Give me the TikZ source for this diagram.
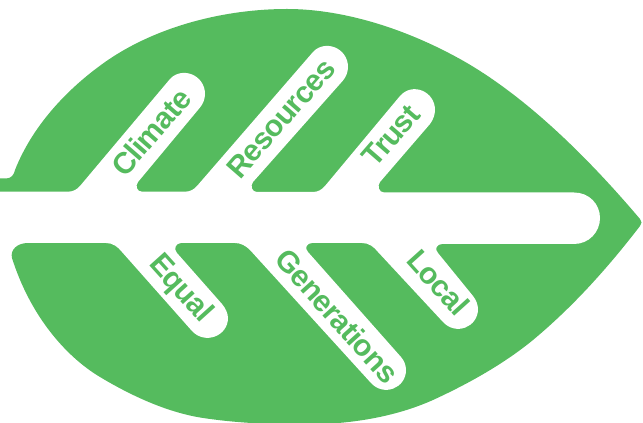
\documentclass[tikz,border=0pt]{standalone}
\usepackage{fontspec}
\setmainfont{Liberation Sans}
\newfontfamily\lblfont[LetterSpace=-2.5]{Liberation Sans}
\definecolor{leafgreen}{RGB}{85,187,94}
\tikzset{
  x=0.75pt,y=-0.75pt,
  lbl/.style={text=leafgreen,font=\lblfont\fontsize{22.5pt}{24pt}\selectfont\bfseries,inner sep=0pt,text height=0.72em,text depth=0pt,anchor=center}
}
\begin{document}
\begin{tikzpicture}
\useasboundingbox (0,0) rectangle (643,423);
\clip (0,0) rectangle (643,423);
% leaf
\fill[leafgreen] (0,178.5) -- (6,178.5) .. controls (11,178.5) and (14,175) .. (15,170)
  .. controls (32,127) and (66,89) .. (108,60)
  .. controls (158,26) and (225,9) .. (287,9)
  .. controls (345,9) and (410,30) .. (467,63)
  .. controls (530,100) and (590,160) .. (640,219)
  .. controls (642,221.5) and (642,223.5) .. (640,226)
  .. controls (610,265) and (575,305) .. (533,340)
  .. controls (505,363) and (470,383) .. (433,400)
  .. controls (395,417) and (350,424.5) .. (303,424.5)
  .. controls (270,424.5) and (235,423) .. (200,417.5)
  .. controls (165,411.5) and (130,395) .. (100,377)
  .. controls (65,356) and (30,315) .. (12,258)
  .. controls (10,250) and (17,243) .. (28,243) -- (30,220) -- (0,220) -- cycle;
% white veins
\fill[white] (0,191.7) -- (68,191.7) .. controls (73,191.7) and (77,189.5) .. (80,186)
  -- (170,79) .. controls (182,66) and (205,75) .. (205,94) .. controls (205,99) and (203,104) .. (200,107.5)
  -- (138,182) .. controls (135,186) and (137,191.7) .. (142,191.7)
  -- (185,191.7) .. controls (190,191.7) and (194,189.5) .. (197,186)
  -- (313,52) .. controls (325,39) and (348,48) .. (348,67) .. controls (348,72) and (346,77) .. (343,80.5)
  -- (253,182) .. controls (250,186) and (252,192) .. (257,192)
  -- (313,192) .. controls (318,192) and (322,189.5) .. (325,186)
  -- (400,96) .. controls (412,82) and (435,91) .. (435,110) .. controls (435,115) and (433,120) .. (430,124)
  -- (380,182) .. controls (377,186) and (379,192.5) .. (384,192.5)
  -- (574,192.5) .. controls (589,192.5) and (600,204) .. (600,218) .. controls (600,232) and (589,244) .. (574,244)
  -- (442,244) .. controls (437,244) and (434,249) .. (438,253)
  -- (473,296) .. controls (476,299.5) and (478,305) .. (478,309) .. controls (478,327) and (456,336) .. (443,322)
  -- (378,252) .. controls (374,247) and (369,243) .. (362,243)
  -- (312,243) .. controls (307,243) and (304,248) .. (308,252)
  -- (401,357) .. controls (404,360.5) and (406,365) .. (406,370) .. controls (406,388) and (384,397) .. (371,383)
  -- (250,250) .. controls (246,246) and (241,243) .. (235,243)
  -- (181,243) .. controls (176,243) and (173,249) .. (177,253)
  -- (222,304) .. controls (225,307.5) and (228,313) .. (228,318) .. controls (228,336) and (205,345) .. (192,331)
  -- (122,252) .. controls (118,247) and (113,243) .. (106,243)
  -- (0,243) -- cycle;
% labels
\node[lbl,rotate=49] (climate) at (155.5,136) {Climate};
\node[lbl,rotate=49] (resources) at (285,122) {Resources};
\node[lbl,rotate=49] (trust) at (395,139) {Trust};
\node[lbl,rotate=-48] (equal) at (178,291) {Equal};
\node[lbl,rotate=-48] (generations) at (333,320) {Generations};
\node[lbl,rotate=-48] (local) at (434,286) {Local};
\end{tikzpicture}
\end{document}
